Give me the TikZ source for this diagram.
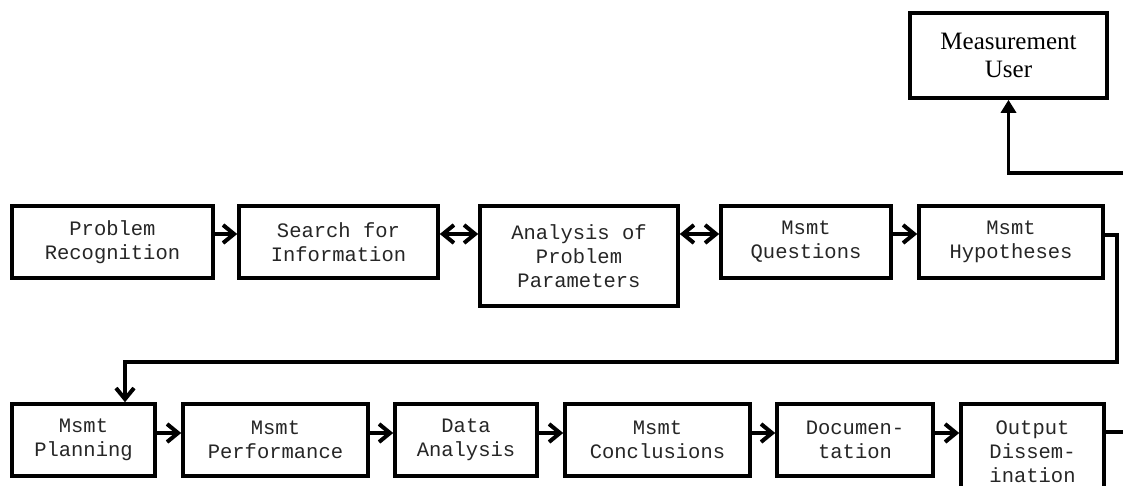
\documentclass[tikz,border=0pt]{standalone}
\usepackage{fontspec}
\newfontfamily\boxfont{Liberation Mono}
\newfontfamily\userfont{Liberation Serif}
\usetikzlibrary{arrows.meta}
\tikzset{
  box/.style={draw=black, line width=3.6pt, fill=white, inner sep=0pt, align=center,
    text=black!85, font=\boxfont\fontsize{20.5}{24}\selectfont, minimum height=72pt},
  userbox/.style={draw=black, line width=3.6pt, inner sep=0pt, align=center,
    font=\userfont\fontsize{25}{28}\selectfont, minimum width=197pt, minimum height=85pt},
  conn/.style={line width=3.4pt, line join=miter},
  barb/.tip={Straight Barb[length=11pt,width=18pt,line width=4pt]},
  chev/.style={conn, -barb},
  bichev/.style={conn, barb-barb},
  tri/.style={conn, -{Triangle[length=13pt,width=15pt]}}
}
\begin{document}
\begin{tikzpicture}[x=1pt,y=-1pt]
\useasboundingbox (0,0) rectangle (1123,486);
% top row
\node[box, minimum width=201pt] (prob) at (112.5,242) {Problem\\Recognition};
\node[box, minimum width=199pt] (search) at (338.5,242) {Search for\\Information};
\node[box, minimum width=198pt, minimum height=100pt] (anal) at (579,256) {Analysis of\\Problem\\Parameters};
\node[box, minimum width=170pt] (quest) at (806,242) {Msmt\\Questions};
\node[box, minimum width=184pt] (hyp) at (1011,242) {Msmt\\Hypotheses};
\node[userbox] (user) at (1008.5,55.5) {Measurement\\User};
% bottom row
\node[box, minimum width=143pt] (plan) at (83.5,440) {Msmt\\Planning};
\node[box, minimum width=185pt] (perf) at (275.5,440) {Msmt\\Performance};
\node[box, minimum width=142pt] (data) at (466,440) {Data\\Analysis};
\node[box, minimum width=185pt] (concl) at (657.5,440) {Msmt\\Conclusions};
\node[box, minimum width=156pt] (doc) at (855,440) {Documen-\\tation};
\node[box, minimum width=143pt, minimum height=96pt] (out) at (1032.5,452) {Output\\Dissem-\\ination};
% coordinates
\coordinate (turn) at (1117,362);
\coordinate (userend) at (1123,173);
\coordinate (outend) at (1123,432);
% top row connectors
\draw[chev] ([yshift=8pt]prob.east) -- ([yshift=8pt]prob.east -| search.west);
\draw[bichev] ([yshift=8pt]search.east) -- ([yshift=8pt]search.east -| anal.west);
\draw[bichev] ([yshift=8pt]quest.west -| anal.east) -- ([yshift=8pt]quest.west);
\draw[chev] ([yshift=8pt]quest.east) -- ([yshift=8pt]quest.east -| hyp.west);
% hypotheses to planning
\draw[chev] ([yshift=7pt]hyp.east) -| (turn) -| ([xshift=41.5pt]plan.north);
% to measurement user
\draw[tri] (userend) -| (user.south);
% bottom row connectors
\draw[chev] ([yshift=7pt]plan.east) -- ([yshift=7pt]plan.east -| perf.west);
\draw[chev] ([yshift=7pt]perf.east) -- ([yshift=7pt]perf.east -| data.west);
\draw[chev] ([yshift=7pt]data.east) -- ([yshift=7pt]data.east -| concl.west);
\draw[chev] ([yshift=7pt]concl.east) -- ([yshift=7pt]concl.east -| doc.west);
\draw[chev] ([yshift=7pt]doc.east) -- ([yshift=7pt]doc.east -| out.west);
\draw[conn] (outend -| out.east) -- (outend);
\end{tikzpicture}
\end{document}
